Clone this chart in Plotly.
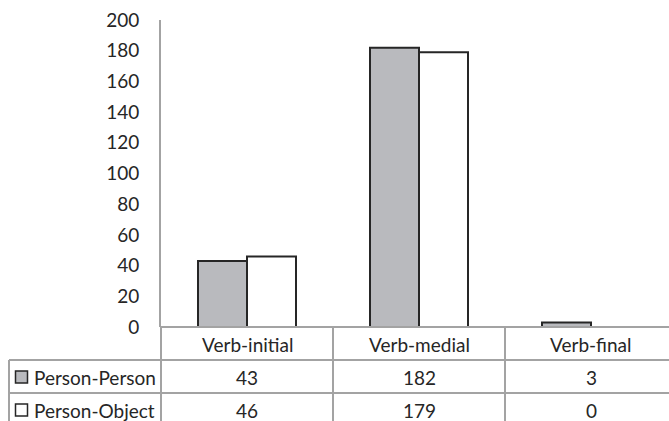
import plotly.graph_objects as go

# Word-order counts by relation type
categories = ["Verb-initial", "Verb-medial", "Verb-final"]
series_names = ["Person-Person", "Person-Object"]
person_person = [43, 182, 3]
person_object = [46, 179, 0]
y_ticks = [0, 20, 40, 60, 80, 100, 120, 140, 160, 180, 200]

W, H = 669, 421
FONT = "Lato"
FS = 19
TXT = "#262626"
GRID = "#a3a3a3"
fills = ["#b9babe", "#ffffff"]

# plot area in pixels
x0_px, y_top_px, y_base_px = 161, 20, 327
cat_w = 172.0
x_right = -0.5 + (W - x0_px) / cat_w


def px(x):
    return x / W


def py(y):
    return 1 - y / H


fig = go.Figure()
for name, vals, col in zip(series_names, [person_person, person_object], fills):
    fig.add_trace(go.Bar(
        x=list(range(len(categories))), y=vals, name=name,
        marker=dict(color=col, line=dict(color="#262626", width=2)),
        showlegend=False,
    ))

shapes = []
annotations = []
row_lines = [327, 360, 393]
col_bounds = [x0_px] + [x0_px + cat_w * (i + 1) for i in range(len(categories))]

# horizontal table rules
shapes.append(dict(type="line", xref="paper", yref="paper",
                   x0=px(x0_px), x1=1, y0=py(row_lines[0]), y1=py(row_lines[0]),
                   line=dict(color=GRID, width=2)))
for yl in row_lines[1:]:
    shapes.append(dict(type="line", xref="paper", yref="paper",
                       x0=px(9), x1=1, y0=py(yl), y1=py(yl),
                       line=dict(color=GRID, width=2)))
# vertical table rules
shapes.append(dict(type="line", xref="paper", yref="paper",
                   x0=px(9), x1=px(9), y0=py(row_lines[1]), y1=0,
                   line=dict(color=GRID, width=2)))
for xb in col_bounds:
    shapes.append(dict(type="line", xref="paper", yref="paper",
                       x0=px(xb), x1=px(xb), y0=py(row_lines[0]), y1=0,
                       line=dict(color=GRID, width=2)))

# category header row
for i, c in enumerate(categories):
    annotations.append(dict(x=i, y=py(344), xref="x", yref="paper", text=c,
                            showarrow=False, xanchor="center", yanchor="middle",
                            font=dict(family=FONT, size=FS, color=TXT)))

# series rows: legend key, name and values
row_centers = [377, 410]
for r, (name, vals, col) in enumerate(zip(series_names, [person_person, person_object], fills)):
    yc = row_centers[r]
    shapes.append(dict(type="rect", xref="paper", yref="paper",
                       x0=px(15.5), x1=px(27.5), y0=py(yc - 6), y1=py(yc + 6),
                       fillcolor=col, line=dict(color="#262626", width=1.5)))
    annotations.append(dict(x=px(32), y=py(yc), xref="paper", yref="paper", text=name,
                            showarrow=False, xanchor="left", yanchor="middle",
                            font=dict(family=FONT, size=FS, color=TXT)))
    for i, v in enumerate(vals):
        annotations.append(dict(x=i, y=py(yc), xref="x", yref="paper", text=str(v),
                                showarrow=False, xanchor="center", yanchor="middle",
                                font=dict(family=FONT, size=FS, color=TXT)))

fig.update_layout(
    width=W, height=H,
    margin=dict(l=0, r=0, t=0, b=0, autoexpand=False),
    paper_bgcolor="white", plot_bgcolor="white",
    barmode="group", bargap=1 - 98 / 172, bargroupgap=0,
    shapes=shapes, annotations=annotations,
    xaxis=dict(domain=[px(x0_px), 1], range=[-0.5, x_right], automargin=False,
               showticklabels=False, showgrid=False, zeroline=False,
               showline=False, ticks=""),
    yaxis=dict(domain=[py(y_base_px), py(y_top_px)], range=[0, 200], automargin=False,
               tickvals=y_ticks, showgrid=False, zeroline=False,
               showline=True, linecolor=GRID, linewidth=2,
               ticks="", ticklabelstandoff=16,
               tickfont=dict(family=FONT, size=FS, color=TXT)),
)

fig.write_html("out.html")
